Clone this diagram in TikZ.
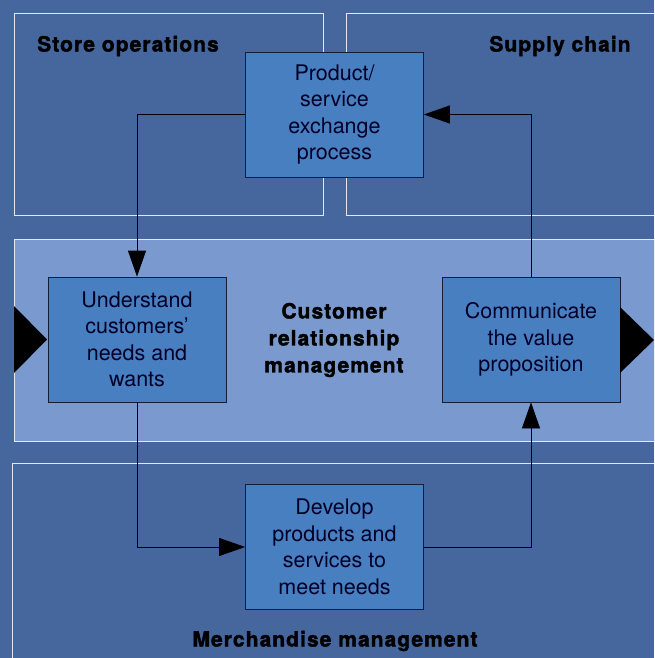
\documentclass[tikz,border=0pt]{standalone}
\usepackage{fontspec}
\setmainfont{TeX Gyre Heros}
\newfontfamily\heavyfont{TeX Gyre Heros Bold}[FakeBold=1.8,LetterSpace=5]
\usetikzlibrary{arrows.meta,positioning}
\definecolor{bgblue}{RGB}{70,102,158}
\definecolor{bandblue}{RGB}{121,153,207}
\definecolor{boxblue}{RGB}{72,127,193}
\definecolor{edgeblue}{RGB}{20,30,55}
\tikzset{
  frame/.style   = {draw=white!85!bgblue, line width=0.8pt},
  area/.style    = {font=\fontsize{21}{27}\heavyfont, text=black, align=center},
  process/.style = {draw=edgeblue, fill=boxblue, line width=0.8pt, minimum width=178pt,
                    minimum height=125pt, inner sep=0pt, align=center,
                    font=\fontsize{21.5}{26.5}\selectfont, text=black!85!blue},
  flow/.style    = {draw=black, line width=0.8pt, -{Triangle[length=26pt,width=18pt]}}
}
\begin{document}
\begin{tikzpicture}[x=1pt,y=-1pt]
\useasboundingbox (0,0) rectangle (654,658);
\clip (0,0) rectangle (654,658);
\fill[bgblue] (0,0) rectangle (654,658);
% the four areas
\draw[frame] (14,13) rectangle (323,215);
\draw[frame] (346,13) rectangle (700,215);
\draw[frame, fill=bandblue] (14,239) rectangle (700,441);
\draw[frame] (12,463) rectangle (700,700);
\node[area] (store)  at (128,46)  {Store operations};
\node[area] (supply) at (560,46)  {Supply chain};
\node[area] (crm)    at (334,340) {Customer\\relationship\\management};
\node[area] (merch)  at (335,641) {Merchandise management};
% the process steps
\node[process] (exchange)    at (334.5,114.5) {Product/\\service\\exchange\\process};
\node[process] (understand)  at (137,339.5)   {Understand\\customers'\\needs and\\wants};
\node[process] (communicate) at (531,339.5)   {Communicate\\the value\\proposition};
\node[process] (develop)     at (334.5,547)   {Develop\\products and\\services to\\meet needs};
\draw[flow] (exchange.west) -| (understand.north);
\draw[flow] (understand.south) |- (develop.west);
\draw[flow] (develop.east) -| (communicate.south);
\draw[flow] (communicate.north) |- (exchange.east);
% in and out of the band
\fill[black] (14,306) -- (47,339.5) -- (14,373) -- cycle;
\fill[black] (620,307) -- (654,340) -- (620,373) -- cycle;
\end{tikzpicture}
\end{document}
